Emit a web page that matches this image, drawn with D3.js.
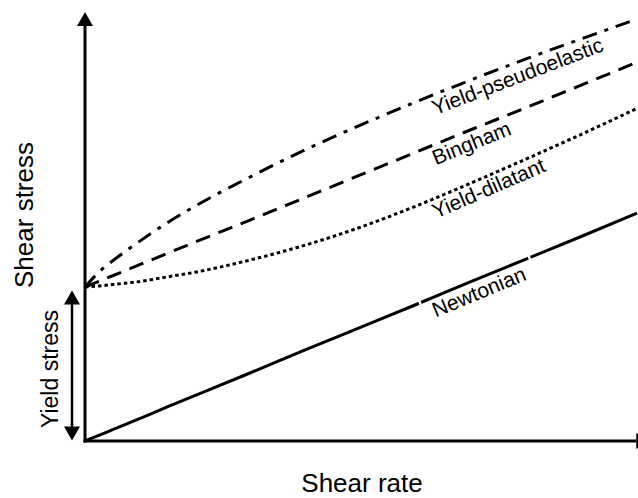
<!DOCTYPE html>
<html>
<head>
<meta charset="utf-8">
<script src="https://cdn.jsdelivr.net/npm/d3@7"></script>
<style>
  html, body { margin: 0; padding: 0; background: #fff; }
  svg { display: block; }
</style>
</head>
<body>
<svg id="chart" width="638" height="498"></svg>
<script>
// Flow curves: shear stress against shear rate for four fluid models
const shearRate          = [0, 0.25, 0.5, 1, 1.5, 2, 3, 4, 5, 6, 7, 8, 9, 10];
const newtonian          = [0, 0.11, 0.22, 0.44, 0.67, 0.89, 1.33, 1.78, 2.22, 2.66, 3.11, 3.55, 3.99, 4.44];
const bingham            = [3.0, 3.11, 3.22, 3.44, 3.66, 3.88, 4.31, 4.75, 5.19, 5.63, 6.07, 6.50, 6.94, 7.38];
const yieldDilatant      = [3.0, 3.02, 3.05, 3.11, 3.20, 3.29, 3.53, 3.82, 4.17, 4.58, 5.03, 5.50, 5.98, 6.48];
const yieldPseudoelastic = [3.0, 3.29, 3.51, 3.90, 4.26, 4.58, 5.15, 5.68, 6.16, 6.61, 7.04, 7.45, 7.84, 8.22];
const yieldStress = 3.0;

const seriesNames = ["Newtonian", "Bingham", "Yield-dilatant", "Yield-pseudoelastic"];
const xTitle = "Shear rate";
const yTitle = "Shear stress";
const yieldTitle = "Yield stress";

const svg = d3.select("#chart");
const font = "'Liberation Sans', Arial, Helvetica, sans-serif";

const x = d3.scaleLinear().domain([0, 10]).range([85, 637]);
const y = d3.scaleLinear().domain([0, 8.36]).range([441, 12]);

const ink = "#000";
const axisW = 3;
const headLen = 14, headHalf = 8;

// ---- axes with arrowheads ----
const x0 = x(0), y0 = y(0);
const yTip = y(y.domain()[1]);
const xTip = x(10.24);

svg.append("line")
  .attr("x1", x0).attr("y1", y0 + axisW / 2)
  .attr("x2", x0).attr("y2", yTip + headLen)
  .attr("stroke", ink).attr("stroke-width", axisW);
svg.append("path")
  .attr("d", `M${x0},${yTip} L${x0 - headHalf},${yTip + headLen} L${x0 + headHalf},${yTip + headLen} Z`)
  .attr("fill", ink);

svg.append("line")
  .attr("x1", x0 - axisW / 2).attr("y1", y0)
  .attr("x2", xTip - headLen).attr("y2", y0)
  .attr("stroke", ink).attr("stroke-width", axisW);
svg.append("path")
  .attr("d", `M${xTip},${y0} L${xTip - headLen},${y0 - headHalf} L${xTip - headLen},${y0 + headHalf} Z`)
  .attr("fill", ink);

// ---- yield stress double arrow ----
const ax = 72;
const aTop = y(yieldStress) + 3.5, aBot = y(0) - 0.5;
svg.append("line")
  .attr("x1", ax).attr("y1", aTop + headLen - 1)
  .attr("x2", ax).attr("y2", aBot - headLen + 1)
  .attr("stroke", ink).attr("stroke-width", 2.5);
svg.append("path")
  .attr("d", `M${ax},${aTop} L${ax - headHalf},${aTop + headLen} L${ax + headHalf},${aTop + headLen} Z`)
  .attr("fill", ink);
svg.append("path")
  .attr("d", `M${ax},${aBot} L${ax - headHalf},${aBot - headLen} L${ax + headHalf},${aBot - headLen} Z`)
  .attr("fill", ink);

// ---- curves ----
const series = [
  { name: seriesNames[0], values: newtonian,          dash: null },
  { name: seriesNames[1], values: bingham,            dash: "15,9" },
  { name: seriesNames[2], values: yieldDilatant,      dash: "3.5,3" },
  { name: seriesNames[3], values: yieldPseudoelastic, dash: "15,8,4,8" }
];

const line = d3.line()
  .x((d, i) => x(shearRate[i]))
  .y(d => y(d))
  .curve(d3.curveMonotoneX);

svg.append("g").selectAll("path")
  .data(series)
  .join("path")
  .attr("d", s => line(s.values))
  .attr("fill", "none")
  .attr("stroke", ink)
  .attr("stroke-width", 3)
  .attr("stroke-dasharray", s => s.dash);

// ---- labels along curves ----
function valueAt(vals, r) {
  const i = Math.min(d3.bisectRight(shearRate, r), shearRate.length - 1);
  const a = i - 1;
  const t = (r - shearRate[a]) / (shearRate[i] - shearRate[a]);
  return vals[a] + t * (vals[i] - vals[a]);
}

const labelAt = 6.22, span = 2.5, labelSize = 21, labelOffset = 19.5;

series.forEach(s => {
  const px = x(labelAt), py = y(valueAt(s.values, labelAt));
  const qx = x(labelAt + span), qy = y(valueAt(s.values, labelAt + span));
  const ang = Math.atan2(qy - py, qx - px) * 180 / Math.PI;
  const g = svg.append("g").attr("transform", `translate(${px},${py}) rotate(${ang})`);
  const box = g.append("rect");
  const t = g.append("text")
    .attr("x", 0).attr("y", labelOffset)
    .attr("font-family", font).attr("font-size", labelSize)
    .attr("fill", ink)
    .text(s.name);
  if (!s.dash) {
    const w = t.node().getComputedTextLength();
    box.attr("x", -9).attr("y", -5).attr("width", w + 19).attr("height", labelOffset + 10)
      .attr("fill", "none").attr("stroke", "#fff").attr("stroke-width", 2.5);
  } else {
    box.remove();
  }
});

// ---- titles ----
svg.append("text")
  .attr("transform", "translate(33,215) rotate(-90)")
  .attr("text-anchor", "middle")
  .attr("font-family", font).attr("font-size", 26).attr("fill", ink)
  .text(yTitle);

svg.append("text")
  .attr("x", 362).attr("y", 492)
  .attr("text-anchor", "middle")
  .attr("font-family", font).attr("font-size", 26).attr("fill", ink)
  .text(xTitle);

svg.append("text")
  .attr("transform", "translate(58,369) rotate(-90)")
  .attr("text-anchor", "middle")
  .attr("font-family", font).attr("font-size", 23).attr("fill", ink)
  .text(yieldTitle);
</script>
</body>
</html>
